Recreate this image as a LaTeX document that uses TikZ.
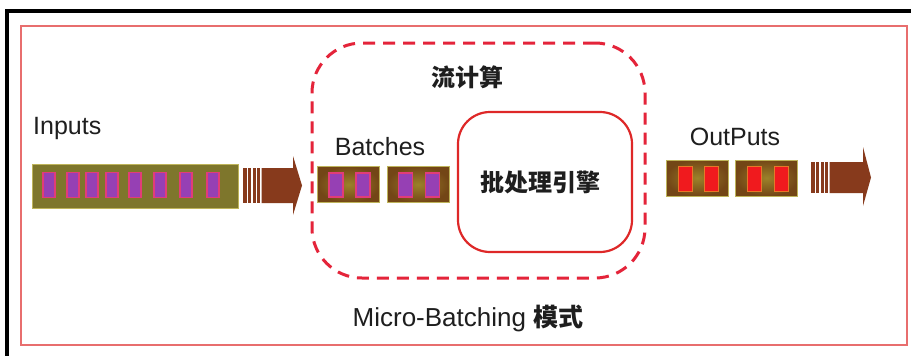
\documentclass[tikz,border=0pt]{standalone}
\usepackage{fontspec}
\setmainfont{Liberation Sans}
\newfontfamily\cjk{Noto Sans CJK SC}
\definecolor{frameRed}{RGB}{232,110,110}
\definecolor{dashRed}{RGB}{228,36,58}
\definecolor{engRed}{RGB}{222,40,40}
\definecolor{olive}{RGB}{126,118,44}
\definecolor{oliveEdge}{RGB}{190,180,90}
\definecolor{cellPurple}{RGB}{150,64,180}
\definecolor{cellPink}{RGB}{226,60,120}
\definecolor{cellRed}{RGB}{240,26,30}
\definecolor{cellOrange}{RGB}{230,120,40}
\definecolor{boxIn}{RGB}{155,130,42}
\definecolor{boxOut}{RGB}{115,70,22}
\definecolor{arrBrown}{RGB}{135,58,28}
\definecolor{txt}{RGB}{30,30,30}
\begin{document}
\begin{tikzpicture}[x=1pt,y=-1pt,
  lbl/.style={text=txt,font=\fontsize{25}{28}\selectfont,inner sep=0pt},
  cjklbl/.style={text=txt,font=\cjk\bfseries\fontsize{24}{28}\selectfont,inner sep=0pt},
  pcell/.style={draw=cellPink,fill=cellPurple,line width=1.2pt,minimum width=12pt,minimum height=25pt,inner sep=0pt},
  rcell/.style={draw=cellOrange,fill=cellRed,line width=0.8pt,minimum width=14pt,minimum height=25pt,inner sep=0pt},
  batchbox/.style={draw=oliveEdge,line width=0.8pt,inner color=boxIn,outer color=boxOut,minimum width=62pt,minimum height=36pt,inner sep=0pt},
  stripe/.style={fill=arrBrown}
]
\useasboundingbox (0,0) rectangle (911,356);
\fill[white] (0,0) rectangle (911,356);
% black frame (top and left)
\fill[black] (5,9) rectangle (911,13);
\fill[black] (5,9) rectangle (9,356);
% red outer frame
\node[draw=frameRed,line width=2.5pt,minimum width=886pt,minimum height=319pt,inner sep=0pt] (frame) at (464,185.5) {};
% dashed stream container
\node[draw=dashRed,line width=3pt,dash pattern=on 12pt off 8pt,rounded corners=50pt,minimum width=333pt,minimum height=235pt,inner sep=0pt] (stream) at (478.5,160.5) {};
% engine
\node[draw=engRed,line width=2.2pt,rounded corners=32pt,minimum width=174pt,minimum height=140pt,inner sep=0pt] (engine) at (545,182) {};
\node[cjklbl] (enginetxt) at (540,182) {批处理引擎};
\node[cjklbl] (streamtxt) at (467,77) {流计算};
% inputs
\node[lbl,anchor=west] (inputstxt) at (33,128) {Inputs};
\node[draw=oliveEdge,fill=olive,line width=0.8pt,minimum width=206pt,minimum height=44pt,inner sep=0pt] (inbar) at (135,186) {};
\foreach \x [count=\i] in {49,73,92,112,135,160,186,213}
  \node[pcell] (in\i) at (\x,185) {};
% arrow 1
\foreach \a/\b in {243/246.5,248/251,252.5/255.5,257/260}
  \fill[stripe] (\a,168) rectangle (\b,203);
\fill[arrBrown] (261.5,168) -- (293,168) -- (293,156) -- (302,185.5) -- (293,215) -- (293,203) -- (261.5,203) -- cycle;
% batches
\node[lbl] (batchestxt) at (380,147) {Batches};
\node[batchbox] (b1) at (348.5,184.5) {};
\node[batchbox] (b2) at (418,184.5) {};
\node[pcell,minimum width=14pt,minimum height=24pt] (b1a) at (336,185) {};
\node[pcell,minimum width=14pt,minimum height=24pt] (b1b) at (363,185) {};
\node[pcell,minimum width=14pt,minimum height=24pt] (b2a) at (405.5,185) {};
\node[pcell,minimum width=14pt,minimum height=24pt] (b2b) at (432.5,185) {};
% outputs
\node[lbl] (outtxt) at (735,137) {OutPuts};
\node[batchbox] (o1) at (697,178) {};
\node[batchbox] (o2) at (766.5,178) {};
\node[rcell] (o1a) at (685,178.5) {};
\node[rcell] (o1b) at (711,178.5) {};
\node[rcell] (o2a) at (754.5,178.5) {};
\node[rcell] (o2b) at (781,178.5) {};
% arrow 2
\foreach \a/\b in {811/814.5,816/819,820.5/823.5,825/828}
  \fill[stripe] (\a,162) rectangle (\b,193);
\fill[arrBrown] (829.5,162) -- (863,162) -- (863,147) -- (871,177.5) -- (863,206) -- (863,193) -- (829.5,193) -- cycle;
% caption
\node[text=txt,inner sep=0pt] (caption) at (468,318) {\fontsize{26}{28}\selectfont Micro-Batching {\cjk\bfseries\fontsize{25}{28}\selectfont 模式}};
\end{tikzpicture}
\end{document}
